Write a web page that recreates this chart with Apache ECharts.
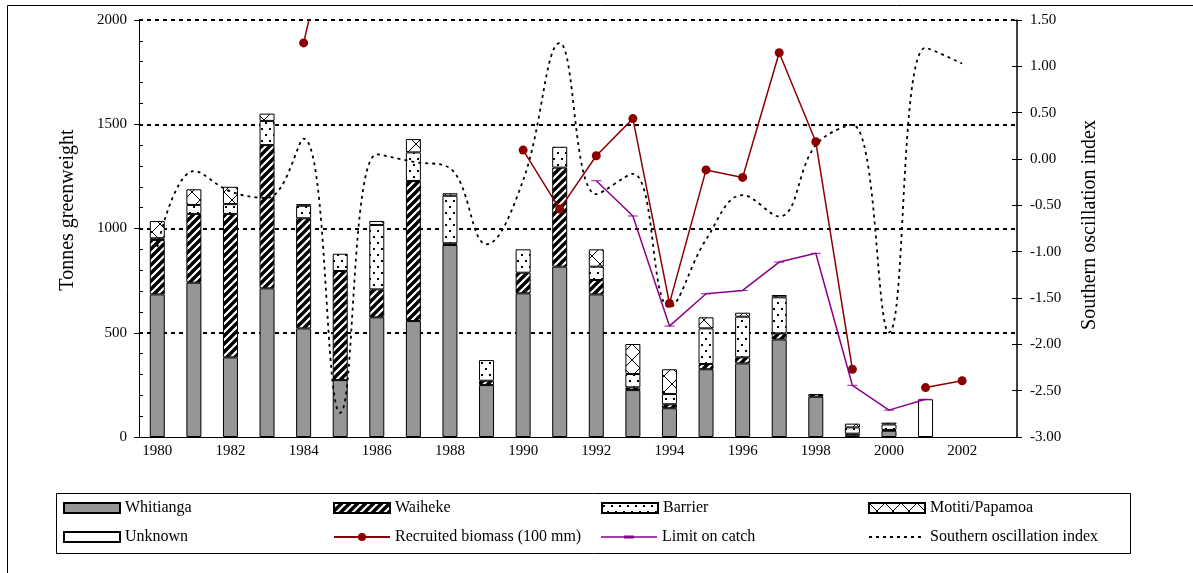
<!DOCTYPE html>
<html><head><meta charset="utf-8">
<script src="https://cdn.jsdelivr.net/npm/echarts@6/dist/echarts.min.js"></script>
<style>html,body{margin:0;padding:0;background:#fff}#c{width:1193px;height:573px}</style>
</head><body><div id="c"></div>
<script>
// ---- data ----
const years = ['1980','1981','1982','1983','1984','1985','1986','1987','1988','1989','1990','1991',
               '1992','1993','1994','1995','1996','1997','1998','1999','2000','2001','2002','2003'];
const whitianga = [684,740,382,713,521,273,574,556,921,249,689,817,684,225,138,325,353,468,193,8,30,null,null,null];
const waiheke   = [261,330,688,687,528,523,134,672,8,21,99,475,69,13,19,25,29,29,13,8,4,null,null,null];
const barrier   = [8,43,47,116,60,83,309,137,228,99,112,100,64,64,49,171,195,173,null,30,26,null,null,null];
const motiti    = [83,75,83,35,8,null,19,64,12,null,null,null,83,144,119,53,19,11,null,18,9,null,null,null];
const unknown   = [null,null,null,null,null,null,null,null,null,null,null,null,null,null,null,null,null,null,null,null,null,181,null,null];
const biomass   = [null,null,null,null,1890,2650,null,null,null,null,1376,1093,1349,1527,641,1281,1245,1843,1416,325,null,237,270,null];
const limitCatch= [null,null,null,null,null,null,null,null,null,null,null,null,1229,1060,532,687,703,839,881,248,129,181,null,null];
const soi       = [-0.95,-0.13,-0.35,-0.42,0.22,-2.74,0.05,-0.03,-0.10,-0.92,-0.23,1.25,-0.38,-0.16,-1.60,-0.87,-0.39,-0.62,0.15,0.37,-1.87,1.20,1.03,null];
const gridLevels = [500,1000,1500,2000];

// ---- patterns ----
function pat(w,h,draw){const c=document.createElement('canvas');c.width=w;c.height=h;const g=c.getContext('2d');g.fillStyle='#fff';g.fillRect(0,0,w,h);g.fillStyle='#000';g.strokeStyle='#000';draw(g,w,h);return {image:c,repeat:'repeat'};}
const hatch = pat(8,8,(g,s)=>{g.lineWidth=3.4;g.beginPath();g.moveTo(-2,s+2);g.lineTo(s+2,-2);g.moveTo(-2,2);g.lineTo(2,-2);g.moveTo(s-2,s+2);g.lineTo(s+2,s-2);g.stroke();});
const dots = pat(8,12,(g)=>{g.fillRect(1,2,2,2);g.fillRect(5,8,2,2);});
const cross = pat(16,16,(g,s)=>{g.lineWidth=1;g.beginPath();g.moveTo(0,0);g.lineTo(s,s);g.moveTo(s,0);g.lineTo(0,s);g.stroke();});

const FONT='"Liberation Serif", "Times New Roman", serif';
const chart = echarts.init(document.getElementById('c'));
const barBase = {type:'bar',stack:'catch',barWidth:15,yAxisIndex:0};
function bs(name,data,color){return Object.assign({},barBase,{name,data,itemStyle:{color,borderColor:'#000',borderWidth:1}});}

function lg(name,left,top,extra){return Object.assign({data:[name],left,top,orient:'horizontal',padding:0,itemGap:0,itemWidth:56,itemHeight:10,selectedMode:false,
  textStyle:{fontFamily:FONT,fontSize:16,color:'#000',lineHeight:18}},extra||{});}

const gridLineData = gridLevels.map(v=>({yAxis:v}));
const DASH = 'path://M0,0L10,0L10,3L0,3Z';
const LIMIT_ICON = 'path://M0,0L0.05,0L0,0.05Z M56,10L55.95,10L56,9.95Z M0,4.3L56,4.3L56,5.7L0,5.7Z M23,3.5L33,3.5L33,6.5L23,6.5Z';

chart.setOption({
  animation:false,
  backgroundColor:'#fff',
  grid:{left:139,right:176,top:20,bottom:136},
  xAxis:{type:'category',data:years,boundaryGap:true,
    axisLine:{lineStyle:{color:'#000',width:1}},
    axisTick:{interval:0,length:5,lineStyle:{color:'#000'}},
    axisLabel:{interval:1,margin:7,fontFamily:FONT,fontSize:15,color:'#000'}},
  yAxis:[
    {type:'value',min:0,max:2000,interval:500,position:'left',
      axisLine:{show:true,lineStyle:{color:'#000'}},
      axisTick:{show:true,length:5,lineStyle:{color:'#000'}},
      axisLabel:{margin:12,fontFamily:FONT,fontSize:15,color:'#000',formatter:v=>String(v)},
      splitLine:{show:false}},
    {type:'value',min:0,max:2000,interval:100,position:'left',
      axisLine:{show:false},axisTick:{show:true,inside:true,length:4,lineStyle:{color:'#000'}},
      axisLabel:{show:false},splitLine:{show:false}},
    {type:'value',min:-3,max:1.5,interval:0.5,position:'right',
      axisLine:{show:true,lineStyle:{color:'#000',width:1.5}},
      axisTick:{show:true,length:5,lineStyle:{color:'#000'}},
      axisLabel:{margin:13,fontFamily:FONT,fontSize:15,color:'#000',formatter:v=>v.toFixed(2)},
      splitLine:{show:false}},
    {type:'value',min:-3,max:1.5,interval:0.5,position:'right',
      axisLine:{show:false},axisTick:{show:true,inside:true,length:5,lineStyle:{color:'#000'}},
      axisLabel:{show:false},splitLine:{show:false}}
  ],
  legend:[
    lg('Whitianga',63,499,{icon:'rect'}), lg('Unknown',63,528,{icon:'rect'}),
    lg('Waiheke',333,499,{icon:'rect'}), lg('Recruited biomass (100 mm)',333,528),
    lg('Barrier',601,499,{icon:'rect'}), lg('Limit on catch',601,528,{icon:LIMIT_ICON}),
    lg('Motiti/Papamoa',868,499,{icon:'rect'}), lg('Southern oscillation index',868,528,{itemStyle:{opacity:0}})
  ],
  graphic:[
    {type:'rect',shape:{x:56.5,y:493.5,width:1074,height:60},style:{fill:'none',stroke:'#000',lineWidth:1},silent:true},
    {type:'polyline',shape:{points:[[7.5,600],[7.5,5.5],[1193,5.5]]},style:{fill:'none',stroke:'#000',lineWidth:1},silent:true},
    {type:'text',x:68,y:210,rotation:Math.PI/2,style:{text:'Tonnes greenweight',font:'20px '+FONT,fill:'#000',align:'center',verticalAlign:'middle'}},
    {type:'text',x:1090,y:225,rotation:Math.PI/2,style:{text:'Southern oscillation index',font:'20px '+FONT,fill:'#000',align:'center',verticalAlign:'middle'}}
  ],
  series:[
    Object.assign(bs('Whitianga',whitianga,'#969696'),{markLine:{silent:true,symbol:'none',label:{show:false},z:1,
      lineStyle:{color:'#000',width:2,type:[4,4]},data:gridLineData}}),
    bs('Waiheke',waiheke,hatch),
    bs('Barrier',barrier,dots),
    bs('Motiti/Papamoa',motiti,cross),
    bs('Unknown',unknown,'#fff'),
    {name:'Recruited biomass (100 mm)',type:'line',yAxisIndex:0,data:biomass,connectNulls:false,clip:true,
      symbol:'circle',symbolSize:9,lineStyle:{color:'#8B0000',width:1.5},itemStyle:{color:'#8B0000'},z:5},
    {name:'Limit on catch',type:'line',yAxisIndex:0,data:limitCatch,connectNulls:false,showSymbol:true,
      symbol:DASH,symbolKeepAspect:true,symbolSize:[10,3],lineStyle:{color:'#8B008B',width:1.5},itemStyle:{color:'#8B008B'},z:6},
    {name:'Southern oscillation index',type:'line',yAxisIndex:2,data:soi,smooth:0.4,showSymbol:false,symbol:'none',
      lineStyle:{color:'#000',width:1.8,type:[3,4]},itemStyle:{color:'#000'},z:4}
  ]
});
</script></body></html>
